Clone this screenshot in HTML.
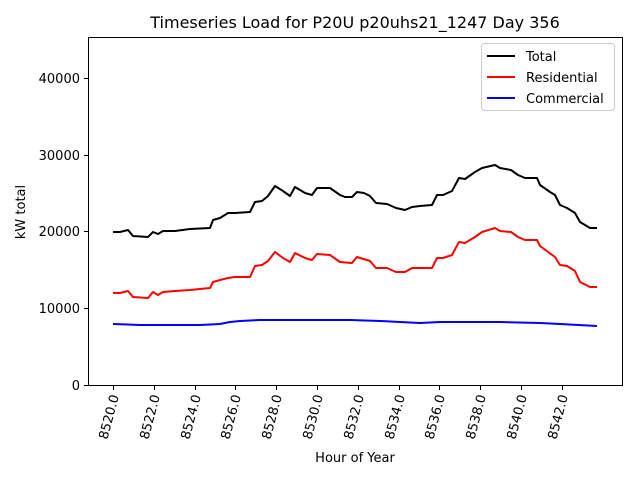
<!DOCTYPE html>
<html><head><style>body{margin:0;background:#fff}svg text{font-family:"DejaVu Sans","Liberation Sans",sans-serif}</style></head><body>
<svg width="640" height="480" xmlns="http://www.w3.org/2000/svg">
<rect width="640" height="480" fill="#fff"/>
<text x="355" y="28" font-size="16" text-anchor="middle">Timeseries Load for P20U p20uhs21_1247  Day 356</text>
<g fill="none" stroke-width="2" stroke-linejoin="round">
<polyline stroke="#000" points="113,232 120,232 128,230 133,236 148,237 153,232 158,234 163,231 175,231 190,229 210,228 213,220 220,218 228,213 235,213 250,212 255,202 262,201 268,196 275,186 283,191 290,196 295,187 305,193 312,195 317,188 330,188 340,195 345,197 352,197 357,192 364,193 370,196 376,203 387,204 396,208 405,210 412,207 420,206 432,205 437,195 443,195 452,191 459,178 465,179 475,172 482,168 495,165 500,168 511,170 518,175 525,178 537,178 540,185 550,192 555,195 560,205 567,208 575,213 580,222 590,228 597,228"/>
<polyline stroke="#f00" points="113,293 120,293 128,291 133,297 148,298 153,292 158,295 163,292 175,291 190,290 210,288 213,282 220,280 228,278 235,277 250,277 255,266 262,265 268,261 275,252 283,258 290,262 295,253 305,258 312,260 317,254 330,255 340,262 352,263 357,257 370,261 376,268 387,268 396,272 405,272 412,268 432,268 437,258 443,258 452,255 459,242 465,243 475,237 482,232 495,228 500,231 511,232 518,237 525,240 537,240 540,246 555,257 560,265 567,266 575,271 580,282 590,287 597,287"/>
<polyline stroke="#00f" points="113,324 140,325 160,325 200,325 220,324 230,322 240,321 260,320 280,320 300,320 350,320 380,321 400,322 420,323 440,322 480,322 500,322 540,323 560,324 597,326"/>
</g>
<rect x="88.5" y="37.5" width="534" height="348" fill="none" stroke="#000" stroke-width="1"/>
<g stroke="#000" stroke-width="1">
<line x1="84" y1="385.5" x2="88" y2="385.5"/><line x1="84" y1="308.5" x2="88" y2="308.5"/><line x1="84" y1="231.5" x2="88" y2="231.5"/><line x1="84" y1="155.5" x2="88" y2="155.5"/><line x1="84" y1="78.5" x2="88" y2="78.5"/>
<line x1="113.5" y1="386" x2="113.5" y2="390"/><line x1="154.5" y1="386" x2="154.5" y2="390"/><line x1="195.5" y1="386" x2="195.5" y2="390"/><line x1="235.5" y1="386" x2="235.5" y2="390"/><line x1="276.5" y1="386" x2="276.5" y2="390"/><line x1="317.5" y1="386" x2="317.5" y2="390"/><line x1="358.5" y1="386" x2="358.5" y2="390"/><line x1="399.5" y1="386" x2="399.5" y2="390"/><line x1="439.5" y1="386" x2="439.5" y2="390"/><line x1="480.5" y1="386" x2="480.5" y2="390"/><line x1="521.5" y1="386" x2="521.5" y2="390"/><line x1="562.5" y1="386" x2="562.5" y2="390"/>
</g>
<g font-size="13" text-anchor="end">
<text x="80" y="390">0</text><text x="80" y="313">10000</text><text x="80" y="236">20000</text><text x="80" y="160">30000</text><text x="80" y="83">40000</text>
</g>
<g font-size="13" text-anchor="end">
<text transform="translate(119,396) rotate(-75)">8520.0</text>
<text transform="translate(160,396) rotate(-75)">8522.0</text>
<text transform="translate(201,396) rotate(-75)">8524.0</text>
<text transform="translate(241,396) rotate(-75)">8526.0</text>
<text transform="translate(282,396) rotate(-75)">8528.0</text>
<text transform="translate(323,396) rotate(-75)">8530.0</text>
<text transform="translate(364,396) rotate(-75)">8532.0</text>
<text transform="translate(405,396) rotate(-75)">8534.0</text>
<text transform="translate(445,396) rotate(-75)">8536.0</text>
<text transform="translate(486,396) rotate(-75)">8538.0</text>
<text transform="translate(527,396) rotate(-75)">8540.0</text>
<text transform="translate(568,396) rotate(-75)">8542.0</text>
</g>
<text x="355" y="462" font-size="13" text-anchor="middle">Hour of Year</text>
<text transform="translate(25,212) rotate(-90)" font-size="13" text-anchor="middle">kW total</text>
<rect x="481.5" y="43.5" width="133" height="67" rx="3" fill="#fff" stroke="#ccc"/>
<g stroke-width="2"><line x1="487" y1="56" x2="515" y2="56" stroke="#000"/><line x1="487" y1="77" x2="515" y2="77" stroke="#f00"/><line x1="487" y1="98" x2="515" y2="98" stroke="#00f"/></g>
<g font-size="13"><text x="526" y="61">Total</text><text x="526" y="82">Residential</text><text x="526" y="103">Commercial</text></g>
</svg>
</body></html>
